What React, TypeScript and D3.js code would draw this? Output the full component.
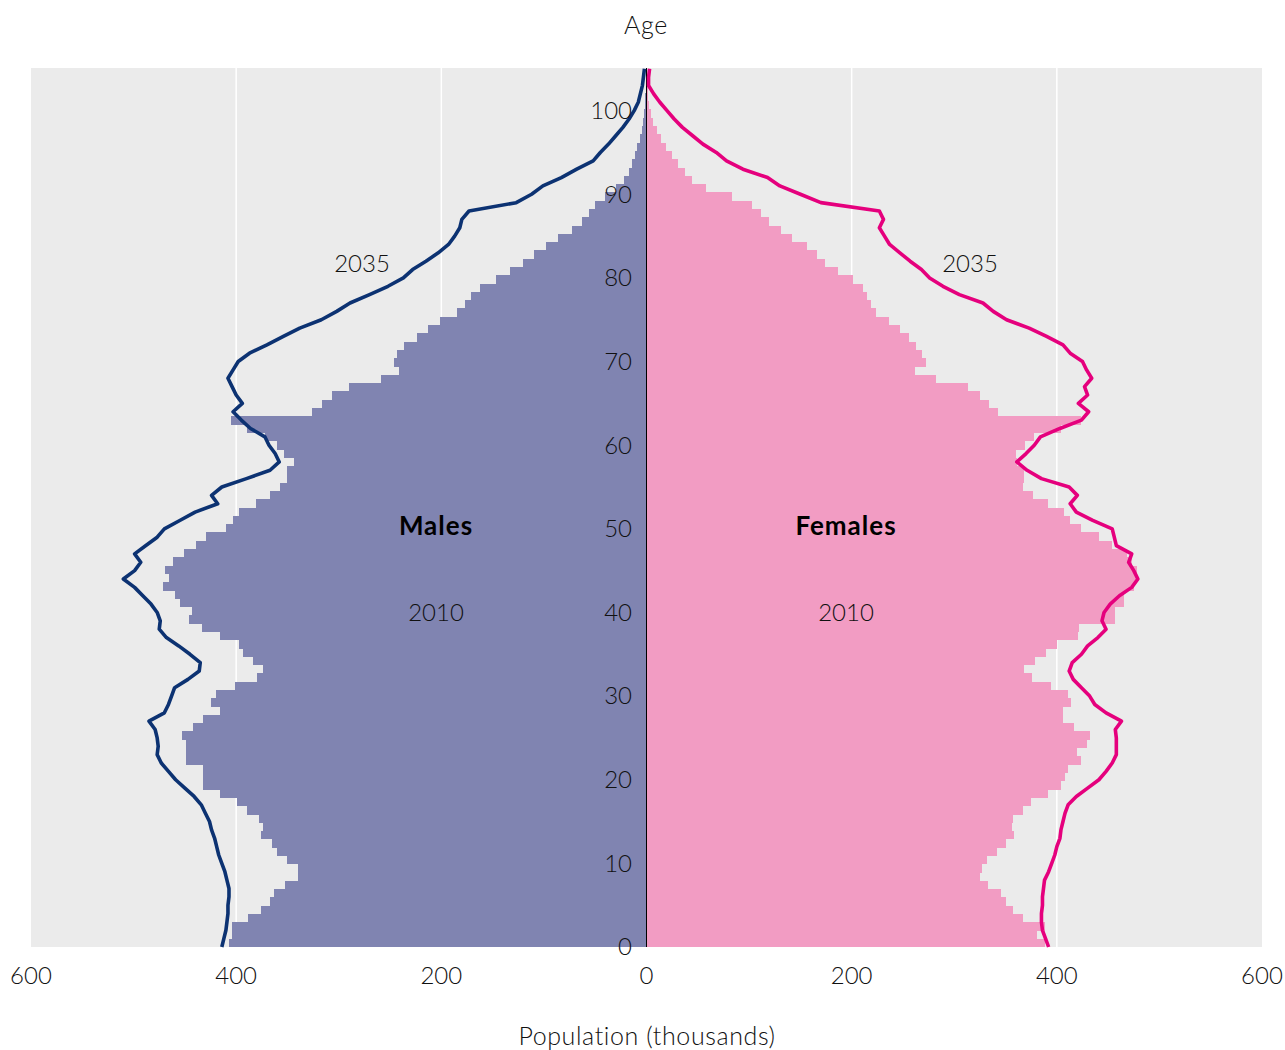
import React from 'react'
import * as d3 from 'd3'

// single-year ages 0..105, population in thousands
const ages = d3.range(0, 106)

const males2010 = [
  407, 404, 404, 388, 376, 367, 363, 352, 340, 340,
  350, 360, 365, 376, 374, 378, 389, 399, 416, 432,
  432, 432, 449, 449, 449, 453, 442, 432, 416, 425,
  420, 401, 380, 374, 384, 393, 397, 416, 433, 446,
  443, 455, 460, 471, 465, 469, 462, 451, 439, 429,
  410, 403, 397, 381, 367, 357, 350, 350, 344, 353,
  360, 372, 389, 405, 326, 316, 307, 290, 259, 241,
  246, 243, 236, 224, 213, 201, 185, 177, 171, 162,
  147, 133, 120, 110, 98, 86, 73, 63, 56, 50,
  40, 30, 22, 17, 14, 11, 9, 6, 4, 3,
  2, 1, 1, 0.5, 0.3, 0.2
]

const females2010 = [
  388, 381, 388, 367, 357, 350, 346, 333, 325, 327,
  332, 342, 350, 358, 356, 357, 367, 375, 391, 404,
  408, 411, 424, 420, 429, 432, 417, 406, 406, 414,
  411, 394, 376, 368, 379, 389, 400, 421, 422, 457,
  457, 465, 465, 475, 478, 478, 473, 468, 454, 441,
  424, 413, 407, 391, 377, 367, 368, 368, 361, 360,
  369, 378, 404, 424, 343, 334, 325, 313, 282, 262,
  272, 269, 263, 256, 247, 236, 224, 219, 215, 211,
  201, 187, 174, 166, 156, 142, 131, 119, 112, 103,
  83, 58, 44, 38, 31, 25, 19, 14, 10, 6.5,
  4, 2.6, 1.6, 1, 0.6, 0.3
]

const males2035 = [
  414, 412, 410, 409, 408, 408, 407, 407, 409, 411,
  414, 417, 419, 421, 424, 426, 430, 434, 441, 450,
  459, 466, 473, 477, 476, 477, 479, 485, 470, 466,
  463, 460, 447, 436, 435, 445, 456, 468, 475, 474,
  477, 483, 491, 499, 510, 499, 493, 499, 488, 477,
  470, 455, 440, 418, 424, 414, 390, 367, 358, 362,
  368, 372, 386, 395, 403, 394, 400, 404, 408, 403,
  398, 387, 370, 354, 338, 317, 302, 289, 270, 252,
  237, 228, 215, 203, 193, 187, 182, 180, 173, 127,
  112, 101, 83, 68, 52, 45, 37, 30, 23, 17,
  12, 8, 6, 4, 3, 2
]

const females2035 = [
  392, 389, 386, 385, 385, 386, 386, 387, 388, 392,
  395, 398, 400, 403, 404, 406, 408, 411, 419, 430,
  441, 448, 454, 458, 458, 458, 457, 463, 448, 437,
  432, 424, 416, 412, 415, 424, 430, 440, 448, 444,
  446, 452, 461, 473, 479, 475, 470, 473, 458, 456,
  454, 435, 419, 413, 420, 412, 385, 371, 361, 370,
  378, 384, 403, 424, 431, 421, 430, 427, 434, 429,
  425, 413, 406, 390, 373, 351, 338, 328, 305, 289,
  276, 268, 257, 247, 237, 232, 227, 231, 227, 170,
  150, 130, 118, 94, 78, 68, 55, 45, 35, 27,
  20, 13, 7, 2, 2, 3
]

const xTicks = [-600, -400, -200, 0, 200, 400, 600]
const gridTicks = [-400, -200, 200, 400]
const yTicks = d3.range(0, 101, 10)

const W = 1285
const H = 1050
const left = 31
const right = 1262
const top = 68
const bottom = 947

const FONT = "Lato, 'Open Sans', sans-serif"

export default function App() {
  const x = d3.scaleLinear().domain([-600, 600]).range([left, right])
  const yBand = d3.scaleBand<number>().domain(ages).range([bottom, top]).paddingInner(0)
  const y = d3.scaleLinear().domain([0, 105.1]).range([bottom, top])

  const maleLine = d3
    .line<number>()
    .x(d => x(-d))
    .y((_, i) => y(ages[i]))
  const femaleLine = d3
    .line<number>()
    .x(d => x(d))
    .y((_, i) => y(ages[i]))

  const word = { fontSize: 25, fontWeight: 300, fill: '#111', letterSpacing: 0.6 }

  return (
    <div style={{ position: 'absolute', left: 0, top: 0 }}>
      <svg width={W} height={H} style={{ display: 'block' }} fontFamily={FONT}>
        <rect x={left} y={top} width={right - left} height={bottom - top} fill="#ebebeb" />
        {gridTicks.map(t => (
          <line key={t} x1={x(t)} x2={x(t)} y1={top} y2={bottom} stroke="#fff" strokeWidth={1.5} />
        ))}

        <g shapeRendering="crispEdges">
          {ages.map((a, i) => (
            <rect
              key={'m' + a}
              x={x(-males2010[i])}
              y={yBand(a)}
              width={x(0) - x(-males2010[i])}
              height={yBand.bandwidth() + 0.3}
              fill="#8084b1"
            />
          ))}
          {ages.map((a, i) => (
            <rect
              key={'f' + a}
              x={x(0)}
              y={yBand(a)}
              width={x(females2010[i]) - x(0)}
              height={yBand.bandwidth() + 0.3}
              fill="#f29cc3"
            />
          ))}
        </g>

        <line x1={x(0)} x2={x(0)} y1={top} y2={bottom} stroke="#000" strokeWidth={1} />

        <path d={maleLine(males2035) || ''} fill="none" stroke="#0c3272" strokeWidth={3.6} strokeLinejoin="round" />
        <path d={femaleLine(females2035) || ''} fill="none" stroke="#e5007d" strokeWidth={3.6} strokeLinejoin="round" />

        {yTicks.map(t => (
          <text key={t} x={632} y={y(t)} dy="0.35em" textAnchor="end" fontSize={24} fontWeight={300} fill="#111">
            {t}
          </text>
        ))}
        {xTicks.map(t => (
          <text key={t} x={x(t)} y={984} textAnchor="middle" fontSize={24} fontWeight={300} fill="#111">
            {Math.abs(t)}
          </text>
        ))}

        <text x={646} y={34} textAnchor="middle" {...word}>Age</text>
        <text x={647} y={1045} textAnchor="middle" {...word}>
          Population (thousands)
        </text>

        <text x={362} y={272} textAnchor="middle" fontSize={24} fontWeight={300} fill="#111">2035</text>
        <text x={970} y={272} textAnchor="middle" fontSize={24} fontWeight={300} fill="#111">2035</text>
        <text x={436} y={535} textAnchor="middle" fontSize={26} fontWeight={700} letterSpacing={1} fill="#000">Males</text>
        <text x={846} y={535} textAnchor="middle" fontSize={26} fontWeight={700} letterSpacing={1} fill="#000">Females</text>
        <text x={436} y={621} textAnchor="middle" fontSize={24} fontWeight={300} fill="#111">2010</text>
        <text x={846} y={621} textAnchor="middle" fontSize={24} fontWeight={300} fill="#111">2010</text>
      </svg>
    </div>
  )
}
